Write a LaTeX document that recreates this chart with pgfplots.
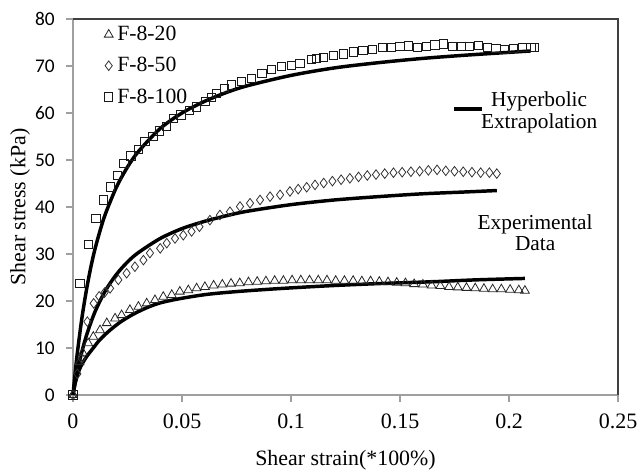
\documentclass[border=0pt]{standalone}
\usepackage{fontspec}
\setmainfont{Liberation Serif}
\newfontfamily\calibri{Carlito}
\usepackage{pgfplots}
\pgfplotsset{compat=1.18}
\begin{document}
\begin{tikzpicture}
\path[use as bounding box] (-54.75pt,-58.5pt) rectangle (423.75pt,296.25pt);
\begin{axis}[
  at={(0pt,0pt)}, anchor=south west,
  scale only axis, width=408.75pt, height=282pt,
  xmin=0, xmax=0.25, ymin=0, ymax=80,
  xtick={0,0.05,0.1,0.15,0.2,0.25},
  xticklabels={0,0.05,0.1,0.15,0.2,0.25},
  ytick={0,10,20,30,40,50,60,70,80},
  axis x line*=bottom, axis y line*=left,
  axis line style={draw=gray!75, line width=0.8pt},
  tick align=outside, major tick length=5.25pt,
  tick style={gray!75, line width=0.8pt},
  /pgf/number format/assume math mode=true,
  xticklabel style={font=\fontsize{16.5}{19}\selectfont, yshift=-5pt},
  yticklabel style={font=\calibri\fontsize{14.5}{16}\selectfont, xshift=-5pt},
  xlabel={Shear strain(*100\%)}, ylabel={Shear stress (kPa)},
  label style={font=\fontsize{16.4}{19}\selectfont},
  xlabel style={at={(axis description cs:0.5,-0.173)}, anchor=center},
  ylabel style={at={(axis description cs:-0.0972,0.5)}, anchor=center},
  legend style={at={(rel axis cs:0.057,0.99)}, anchor=north west, draw=none, fill=none,
    font=\fontsize{16.3}{19}\selectfont, row sep=6pt, inner sep=0pt, nodes={inner sep=2.5pt}},
  legend cell align=left,
  legend image code/.code={\draw[#1] plot coordinates {(0cm,0cm)}; \path (0.13cm,0cm);},
  clip=false,
]
\draw[black!75, line width=0.8pt] (rel axis cs:0,1) -- (rel axis cs:1,1) -- (rel axis cs:1,0);

% F-8-20 (triangles)
\addplot[only marks, mark=triangle, mark size=3.8pt, black!85, mark options={line width=0.6pt}] coordinates {
(0,0) (0.0030,7.0) (0.0045,9.0) (0.0070,11.0) (0.0093,12.4) (0.0124,13.8) (0.0155,15.3)
(0.0193,16.3) (0.0223,17.0) (0.0261,18.1) (0.0300,18.8) (0.0338,19.5) (0.0376,20.2)
(0.0414,20.9) (0.0453,21.3) (0.0490,22.0) (0.0529,22.3) (0.0567,22.7) (0.0605,23.0)
(0.0645,23.3) (0.0685,23.5) (0.0725,23.7) (0.0765,23.8) (0.0805,24.0) (0.0845,24.1)
(0.0885,24.2) (0.0925,24.3) (0.0965,24.3) (0.1005,24.4) (0.1045,24.4) (0.1085,24.4)
(0.1125,24.4) (0.1165,24.4) (0.1205,24.3) (0.1245,24.3) (0.1285,24.3) (0.1325,24.2)
(0.1365,24.2) (0.1405,24.1) (0.1445,24.0) (0.1485,23.9) (0.1525,23.8) (0.1565,23.6)
(0.1605,23.5) (0.1645,23.3) (0.1685,23.2) (0.1725,23.0) (0.1765,22.9) (0.1805,22.8)
(0.1845,22.7) (0.1885,22.6) (0.1925,22.5) (0.1965,22.5) (0.2005,22.4) (0.2045,22.3)
(0.2073,22.2)};
\addlegendentry{F-8-20}

% F-8-50 (diamonds)
\addplot[only marks, mark=diamond, mark size=3.6pt, black!80, mark options={line width=0.6pt}] coordinates {
(0,0) (0.0020,4.5) (0.0040,7.8) (0.0066,15.6) (0.0095,19.5) (0.0120,21.0) (0.0145,21.8)
(0.0170,22.7) (0.0208,24.5) (0.0246,25.9) (0.0284,27.3) (0.0323,28.7) (0.0353,30.2)
(0.0400,31.2) (0.0430,32.3) (0.0468,33.3) (0.0506,34.0) (0.0544,34.8) (0.0580,35.8)
(0.0628,37.2) (0.0674,38.3) (0.0720,39.0) (0.0766,40.1) (0.0812,40.8) (0.0858,41.5)
(0.0904,42.2) (0.0950,42.6) (0.0995,43.3) (0.1033,43.8) (0.1072,44.2) (0.1110,44.7)
(0.1150,45.1) (0.1190,45.5) (0.1230,45.8) (0.1270,46.1) (0.1310,46.4) (0.1350,46.7)
(0.1390,46.9) (0.1430,47.1) (0.1470,47.3) (0.1510,47.4) (0.1550,47.5) (0.1590,47.6)
(0.1630,47.8) (0.1670,47.9) (0.1710,47.7) (0.1750,47.6) (0.1790,47.5) (0.1830,47.4)
(0.1870,47.3) (0.1910,47.3) (0.1944,47.1)};
\addlegendentry{F-8-50}

% F-8-100 (squares)
\addplot[only marks, mark=square, mark size=3.1pt, black!90, mark options={line width=0.6pt}] coordinates {
(0,0) (0.0032,23.8) (0.0070,32.1) (0.0105,37.6) (0.0141,41.5) (0.0170,44.3) (0.0203,46.8)
(0.0234,49.3) (0.0266,50.9) (0.0300,52.3) (0.0330,53.9) (0.0366,55.0) (0.0396,56.2)
(0.0430,57.2) (0.0460,58.9) (0.0495,59.6) (0.0535,60.5) (0.0567,61.3) (0.0606,62.4)
(0.0635,63.3) (0.0659,64.2) (0.0695,65.2) (0.0728,66.0) (0.0774,66.7) (0.0820,67.4)
(0.0866,68.5) (0.0911,69.3) (0.0957,69.9) (0.1003,70.2) (0.1041,70.6) (0.1095,71.4)
(0.1118,71.6) (0.1150,71.9) (0.1195,72.3) (0.1240,72.6) (0.1285,73.0) (0.1330,73.3)
(0.1375,73.6) (0.1420,74.0) (0.1460,73.9) (0.1500,74.1) (0.1540,74.3) (0.1580,74.0)
(0.1620,74.2) (0.1660,74.5) (0.1700,74.7) (0.1740,74.2) (0.1780,74.1) (0.1820,74.2)
(0.1860,74.4) (0.1900,74.0) (0.1940,73.7) (0.1980,73.6) (0.2020,73.8) (0.2060,73.9)
(0.2100,73.9) (0.2115,74.0)};
\addlegendentry{F-8-100}

% Hyperbolic extrapolation curves
\addplot[black, line width=2.6pt, smooth, forget plot] coordinates {
(0,0) (0.001,2.5) (0.003,5.5) (0.006,8.0) (0.0093,10.0) (0.0124,11.8) (0.017,13.8)
(0.022,15.6) (0.0277,17.2) (0.034,18.6) (0.040,19.6) (0.049,20.5) (0.0613,21.4)
(0.075,22.0) (0.090,22.5) (0.104,22.9) (0.120,23.3) (0.140,23.7) (0.165,24.1)
(0.185,24.5) (0.2073,24.8)};
\addplot[black, line width=2.6pt, smooth, forget plot] coordinates {
(0,0) (0.001,2.7) (0.003,7.2) (0.006,12.4) (0.010,17.6) (0.015,22.3) (0.020,25.7)
(0.025,28.3) (0.030,30.3) (0.040,33.3) (0.050,35.4) (0.060,36.9) (0.070,38.1)
(0.080,39.1) (0.100,40.5) (0.120,41.5) (0.140,42.2) (0.160,42.8) (0.180,43.2)
(0.1944,43.5)};
\addplot[black, line width=2.6pt, smooth, forget plot] coordinates {
(0,0) (0.001,4.8) (0.002,9.0) (0.004,16.1) (0.006,21.9) (0.008,26.8) (0.010,30.9)
(0.0125,35.1) (0.015,38.7) (0.020,44.3) (0.025,48.5) (0.030,51.8) (0.040,56.7)
(0.050,60.0) (0.060,62.4) (0.070,64.3) (0.080,65.8) (0.100,68.0) (0.120,69.6)
(0.140,70.7) (0.160,71.6) (0.180,72.3) (0.200,72.9) (0.210,73.2)};
% short line sample for the annotation
\addplot[black, line width=2.6pt, forget plot] coordinates {(0.1748,60.9) (0.1876,60.9)};

\node[font=\fontsize{16}{19}\selectfont, align=center, inner sep=0pt] at (axis cs:0.2138,60.1) {Hyperbolic\\[-3pt]Extrapolation};
\node[font=\fontsize{16}{19}\selectfont, align=center, inner sep=0pt] at (axis cs:0.2120,34.6) {Experimental\\[-3pt]Data};
\end{axis}
\end{tikzpicture}
\end{document}
